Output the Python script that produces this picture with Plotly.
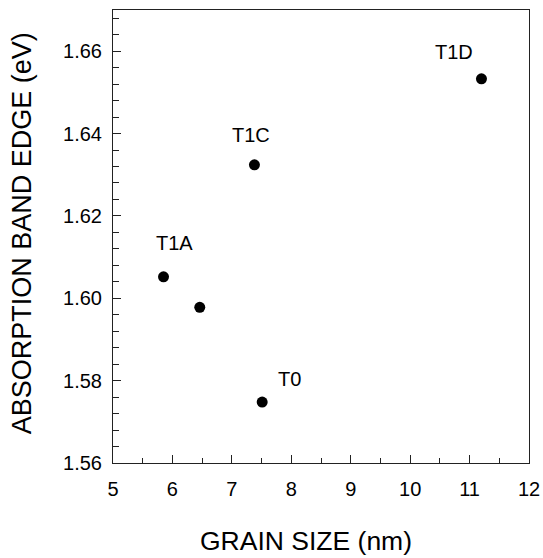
import plotly.graph_objects as go

grain_size = [5.85, 6.46, 7.38, 7.51, 11.20]
band_edge = [1.6052, 1.5978, 1.6324, 1.5748, 1.6533]
labels = ["T1A", "", "T1C", "T0", "T1D"]
label_dx = [11, 0, -3, 27, -27]
label_dy = [34, 0, 30, 23, 27]

fig = go.Figure()
fig.add_trace(go.Scatter(x=grain_size, y=band_edge, mode="markers",
                         marker=dict(color="black", size=11), showlegend=False,
                         hoverinfo="skip"))

for x, y, t, dx, dy in zip(grain_size, band_edge, labels, label_dx, label_dy):
    if t:
        fig.add_annotation(x=x, y=y, text=t, showarrow=False, xshift=dx, yshift=dy,
                           font=dict(size=20, color="black"))

fig.add_annotation(xref="paper", yref="paper", x=0.463, y=-0.172, yanchor="middle",
                   xanchor="center", text="GRAIN SIZE (nm)", showarrow=False,
                   font=dict(size=26.5, color="black"))
fig.add_annotation(xref="paper", yref="paper", x=-0.22, y=0.508, yanchor="middle",
                   xanchor="center", textangle=-90, text="ABSORPTION BAND EDGE (eV)",
                   showarrow=False, font=dict(size=27, color="black"))

axis_common = dict(showgrid=False, zeroline=False, showline=True, linecolor="#222",
                   linewidth=1, mirror=True, ticks="inside", tickcolor="#222",
                   automargin=False, tickfont=dict(size=20, color="black"))

fig.update_xaxes(range=[5, 12], dtick=1, ticklen=8,
                 minor=dict(dtick=0.5, ticks="inside", ticklen=5, tickcolor="#222"),
                 ticklabelstandoff=8, **axis_common)
fig.update_yaxes(range=[1.56, 1.67], dtick=0.02, tick0=1.56, ticklen=8,
                 tickformat=".2f",
                 minor=dict(dtick=0.004, ticks="inside", ticklen=6, tickcolor="#222"),
                 ticklabelstandoff=6, **axis_common)

fig.update_layout(width=543, height=558, margin=dict(l=113, r=14, t=10, b=95),
                  plot_bgcolor="white", paper_bgcolor="white",
                  font=dict(family="Liberation Sans, Arial, sans-serif", color="black"))

fig.write_html("out.html", config={"displayModeBar": False},
               post_script="document.body.style.margin='0';document.body.style.padding='0';")
